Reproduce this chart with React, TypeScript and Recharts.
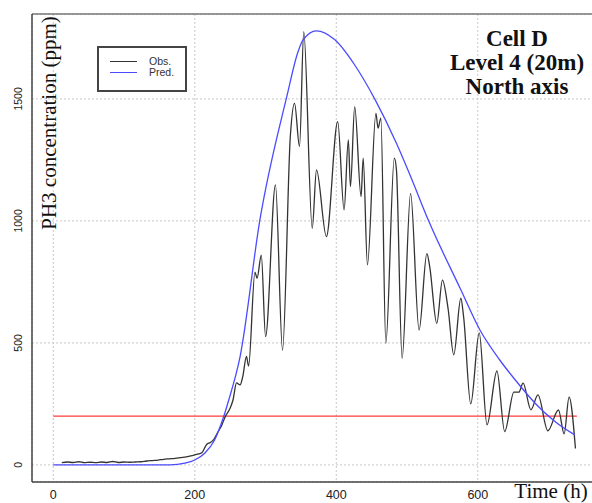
import React from "react";
import {
  LineChart,
  Line,
  XAxis,
  YAxis,
  CartesianGrid,
  ReferenceLine,
  Legend,
} from "recharts";

// observed PH3 concentration (time in h, ppm)
const obsHours = [
  12, 20, 28, 36, 44, 52, 60, 68, 76, 84, 92, 100, 108, 116, 124, 132, 140, 148, 156, 164,
  172, 180, 188, 196, 204, 210, 217, 222, 227, 233, 238, 243, 250, 254, 259, 264, 268, 273,
  276, 285, 288, 294, 300, 314, 324, 335, 341, 348, 354, 366, 372, 386, 402, 411, 417, 420,
  426, 435, 438, 444, 456, 459, 463, 470, 482, 485, 493, 505, 517, 528, 532, 542, 550, 558,
  566, 576, 580, 590, 602, 613, 627, 638, 651, 658, 664, 675, 685, 699, 714, 722, 729, 738,
];
const obsValues = [
  9, 12, 10, 13, 9, 11, 9, 12, 10, 14, 10, 12, 11, 12, 13, 16, 18, 20, 23, 25,
  27, 30, 33, 38, 44, 50, 85, 92, 105, 137, 162, 198, 233, 266, 336, 328, 365, 445,
  405, 790, 765, 860, 526, 1148, 471, 1346, 1482, 1305, 1776, 970, 1209, 936, 1407, 1045, 1332, 1141,
  1468, 1100, 1257, 820, 1441, 1380, 1421, 499, 1257, 1209, 437, 1113, 553, 866, 813, 580, 757, 640,
  451, 683, 605, 250, 541, 164, 385, 137, 298, 298, 335, 226, 287, 140, 225, 127, 278, 67,
];

// model prediction
const predHours = [
  0, 100, 165, 186, 200, 214, 228, 240, 248, 264, 292, 330, 346, 353, 372, 398, 426, 455,
  485, 504, 532, 575, 603, 631, 653, 681, 709, 737,
];
const predValues = [
  0, 0, 0, 7, 20, 48, 102, 191, 266, 444, 1004, 1509, 1694, 1742, 1779, 1742, 1639, 1496,
  1318, 1189, 990, 724, 553, 430, 348, 253, 178, 123,
];

const xTicks = [0, 200, 400, 600];
const yTicks = [0, 500, 1000, 1500];
const threshold = 200;

const obsData = obsHours.map((h, i) => ({ h, v: obsValues[i] }));
const predData = predHours.map((h, i) => ({ h, v: predValues[i] }));

const OBS_COLOR = "#333";
const PRED_COLOR = "#4b4bff";
const seriesColor: Record<string, string> = { "Obs.": OBS_COLOR, "Pred.": PRED_COLOR };

const SANS = "'Liberation Sans', Arial, sans-serif";
const SERIF = "'Liberation Serif', 'Times New Roman', serif";

const XTick = ({ x, payload }: any) => (
  <text x={x} y={499} textAnchor="middle" fontSize={12.5} fill="#222" fontFamily={SANS}>
    {payload.value}
  </text>
);

const YTick = ({ y, payload }: any) => (
  <text
    x={18}
    y={y}
    transform={`rotate(-90 18 ${y})`}
    textAnchor="middle"
    dominantBaseline="central"
    fontSize={10.5}
    fill="#222"
    fontFamily={SANS}
  >
    {payload.value}
  </text>
);

const LegendBox = ({ payload }: any) => (
  <div
    style={{
      border: "2px solid #444",
      width: 90,
      height: 46,
      boxSizing: "border-box",
      padding: "8px 0 0 11px",
      background: "#fff",
    }}
  >
    {(payload || []).map((p: any) => (
      <div key={p.value} style={{ display: "flex", alignItems: "center", height: 11 }}>
        <span
          style={{
            display: "inline-block",
            width: 27,
            height: 0,
            borderTop: `1.5px solid ${seriesColor[p.value] || p.color}`,
          }}
        />
        <span
          style={{ marginLeft: 12, fontSize: 10.5, color: "#333", fontFamily: SANS, lineHeight: "11px" }}
        >
          {p.value}
        </span>
      </div>
    ))}
  </div>
);

export default function App() {
  return (
    <div
      style={{
        position: "absolute",
        left: 0,
        top: 0,
        width: 592,
        height: 503,
        overflow: "hidden",
        background: "#fff",
      }}
    >
      <LineChart width={600} height={503} margin={{ top: 14, right: 0, bottom: 0, left: 0 }}>
        <CartesianGrid stroke="#c8c8c8" strokeDasharray="2 2" />
        <XAxis
          type="number"
          dataKey="h"
          domain={[-30.1, 772.7]}
          allowDataOverflow
          ticks={xTicks}
          tick={<XTick />}
          tickLine={false}
          axisLine={{ stroke: "#444", strokeWidth: 1.5 }}
          height={21}
        />
        <YAxis
          type="number"
          dataKey="v"
          domain={[-70, 1848]}
          allowDataOverflow
          ticks={yTicks}
          tick={<YTick />}
          tickLine={false}
          axisLine={{ stroke: "#444", strokeWidth: 1.5 }}
          width={32}
        />
        <ReferenceLine y={1848} stroke="#777" strokeWidth={1.5} />
        <ReferenceLine
          segment={[
            { x: 0, y: threshold },
            { x: 740, y: threshold },
          ]}
          stroke="#ff3b3b"
          strokeWidth={1.2}
        />
        <Line
          data={obsData}
          dataKey="v"
          name="Obs."
          type="monotone"
          stroke={OBS_COLOR}
          strokeWidth={1.3}
          dot={false}
          isAnimationActive={false}
        />
        <Line
          data={predData}
          dataKey="v"
          name="Pred."
          type="monotone"
          stroke={PRED_COLOR}
          strokeWidth={1.3}
          dot={false}
          isAnimationActive={false}
        />
        <Legend
          layout="vertical"
          align="center"
          verticalAlign="middle"
          content={<LegendBox />}
          wrapperStyle={{ position: "absolute", left: 97, top: 46, width: 90, height: 46 }}
        />
      </LineChart>

      <div
        style={{
          position: "absolute",
          left: 417,
          top: 27,
          width: 200,
          textAlign: "center",
          fontFamily: SERIF,
          fontWeight: "bold",
          fontSize: 23,
          lineHeight: "24px",
          color: "#111",
        }}
      >
        <div>Cell D</div>
        <div>Level 4 (20m)</div>
        <div>North axis</div>
      </div>

      <div
        style={{
          position: "absolute",
          left: 48.5,
          top: 122.5,
          transform: "translate(-50%, -50%) rotate(-90deg)",
          whiteSpace: "nowrap",
          fontFamily: SERIF,
          fontSize: 21,
          lineHeight: "21px",
          color: "#111",
        }}
      >
        PH3 concentration (ppm)
      </div>

      <div
        style={{
          position: "absolute",
          left: 501,
          top: 481,
          width: 100,
          textAlign: "center",
          fontFamily: SERIF,
          fontSize: 21,
          lineHeight: "21px",
          color: "#111",
        }}
      >
        Time (h)
      </div>
    </div>
  );
}
